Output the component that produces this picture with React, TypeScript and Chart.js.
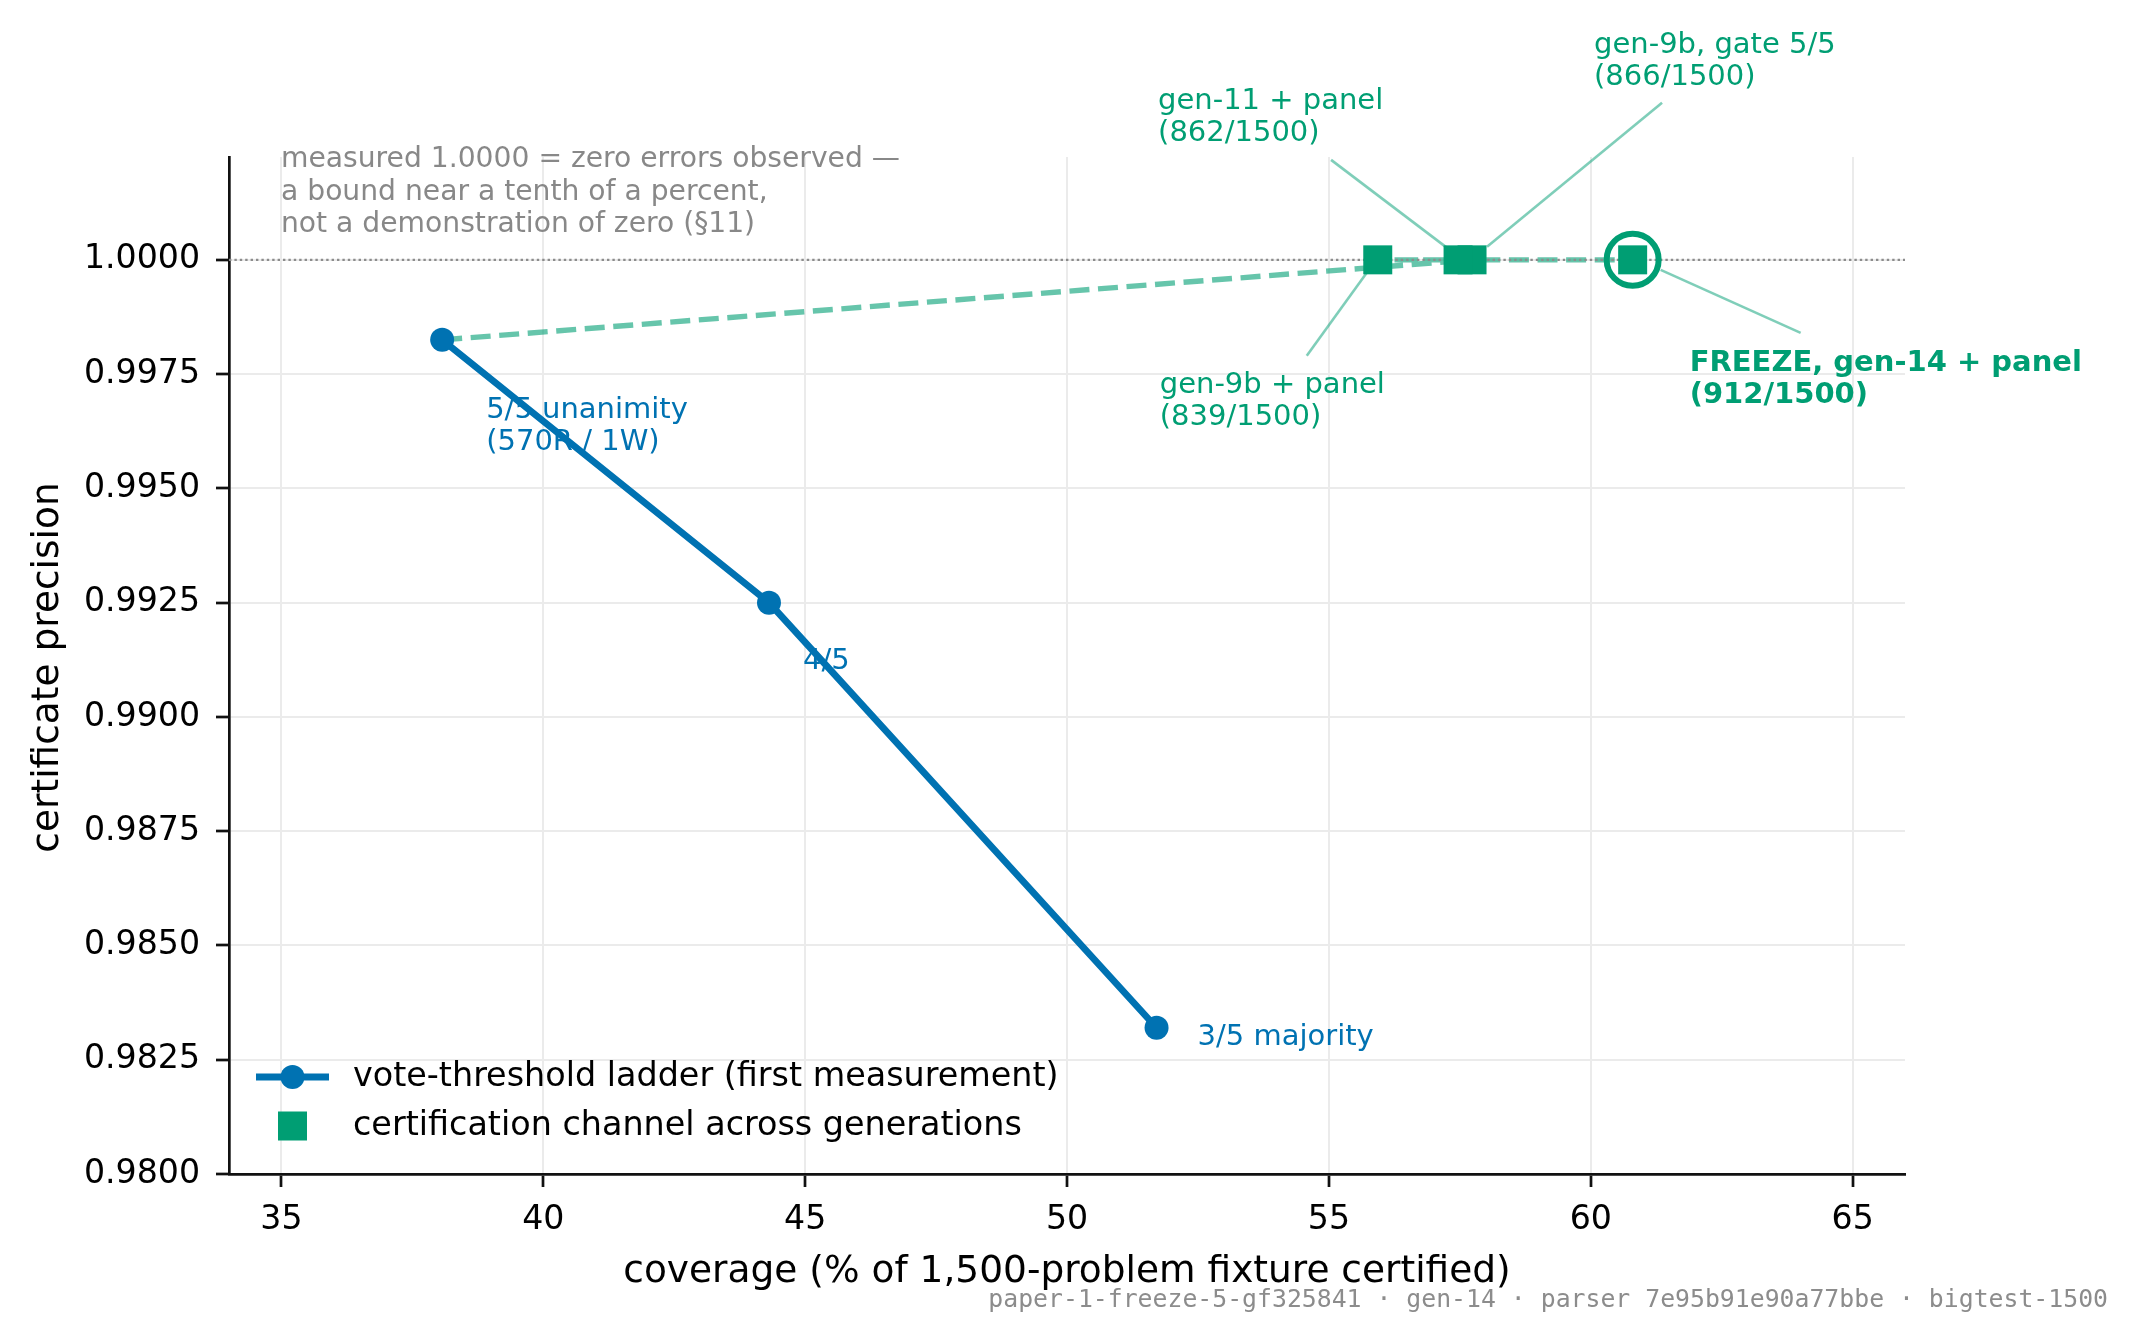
import React, { useEffect, useRef } from "react";
import { Chart, registerables } from "chart.js";

Chart.register(...registerables);

// axes
const X_MIN = 34;
const X_MAX = 66;
const Y_MIN = 0.98;
const Y_MAX = 1.00225;
const xTicks = [35, 40, 45, 50, 55, 60, 65];
const yTicks = [0.98, 0.9825, 0.985, 0.9875, 0.99, 0.9925, 0.995, 0.9975, 1.0];

// vote-threshold ladder (first measurement)
const ladderNames = ["5/5 unanimity\n(570R / 1W)", "4/5", "3/5 majority"];
const ladderCoverage = [38.07, 44.31, 51.71];
const ladderPrecision = [0.99825, 0.9925, 0.9832];

// certification channel, in the order it was run
const FIXTURE_SIZE = 1500;
const channelNames = [
  "gen-9b, gate 5/5\n(866/1500)",
  "gen-9b + panel\n(839/1500)",
  "gen-11 + panel\n(862/1500)",
  "FREEZE, gen-14 + panel\n(912/1500)",
];
const channelCertified = [866, 839, 862, 912];
const channelPrecision = [1, 1, 1, 1];
const FREEZE = 3;

const noteLines = [
  "measured 1.0000 = zero errors observed \u2014",
  "a bound near a tenth of a percent,",
  "not a demonstration of zero (\u00a711)",
];
const footer = "paper-1-freeze-5-gf325841 \u00b7 gen-14 \u00b7 parser 7e95b91e90a77bbe \u00b7 bigtest-1500";

const BLUE = "#0072B2";
const GREEN = "#009E73";
const FONT = "'DejaVu Sans', sans-serif";

// label placement, pixels from the point (text = first baseline, lead = leader line)
const ladderLabelOffset = [[44, 78], [34, 66], [41, 17]];
const channelLabelOffset = [
  { text: [122, -207], lead: [[190, -157], [15, -13]] },
  { text: [-218, 133], lead: [[-71, 96], [-11, 13]] },
  { text: [-300, -151], lead: [[-127, -100], [-11, -12]] },
  { text: [57, 111], lead: [[168, 73], [28, 10]] },
];

const channelCoverage = channelCertified.map((c) => (c / FIXTURE_SIZE) * 100);

const annotations = {
  id: "annotations",
  beforeDatasetsDraw(chart: any) {
    const { ctx, chartArea } = chart;
    const xs = chart.scales.x;
    const ys = chart.scales.y;
    ctx.save();
    ctx.textAlign = "left";
    ctx.textBaseline = "alphabetic";

    ctx.font = `28.2px ${FONT}`;
    ctx.fillStyle = "#888888";
    noteLines.forEach((t, i) => ctx.fillText(t, chartArea.left + 52, chartArea.top + 10 + i * 32.6));

    ctx.font = `29px ${FONT}`;
    ctx.fillStyle = BLUE;
    ladderNames.forEach((name, i) => {
      const px = xs.getPixelForValue(ladderCoverage[i]);
      const py = ys.getPixelForValue(ladderPrecision[i]);
      const [dx, dy] = ladderLabelOffset[i];
      name.split("\n").forEach((t, j) => ctx.fillText(t, px + dx, py + dy + j * 32.6));
    });

    channelNames.forEach((name, i) => {
      const px = xs.getPixelForValue(channelCoverage[i]);
      const py = ys.getPixelForValue(channelPrecision[i]);
      const o = channelLabelOffset[i];
      ctx.strokeStyle = "rgba(0,158,115,0.5)";
      ctx.lineWidth = 2.6;
      ctx.beginPath();
      ctx.moveTo(px + o.lead[0][0], py + o.lead[0][1]);
      ctx.lineTo(px + o.lead[1][0], py + o.lead[1][1]);
      ctx.stroke();
      ctx.fillStyle = GREEN;
      ctx.font = i === FREEZE ? `bold 29px ${FONT}` : `29px ${FONT}`;
      name.split("\n").forEach((t, j) => ctx.fillText(t, px + o.text[0], py + o.text[1] + j * 32.4));
    });
    ctx.restore();
  },
  afterDraw(chart: any) {
    const { ctx, chartArea } = chart;
    ctx.save();
    ctx.fillStyle = "#000";

    // axis titles
    ctx.font = `37.5px ${FONT}`;
    ctx.textAlign = "center";
    ctx.textBaseline = "alphabetic";
    ctx.fillText("coverage (% of 1,500-problem fixture certified)", (chartArea.left + chartArea.right) / 2, 1282);
    ctx.save();
    ctx.translate(58, (chartArea.top + chartArea.bottom) / 2 + 2);
    ctx.rotate(-Math.PI / 2);
    ctx.fillText("certificate precision", 0, 0);
    ctx.restore();

    // legend
    const lx = chartArea.left;
    const ly1 = chartArea.bottom - 97;
    const ly2 = chartArea.bottom - 48;
    ctx.strokeStyle = BLUE;
    ctx.lineWidth = 6.8;
    ctx.beginPath();
    ctx.moveTo(lx + 27, ly1);
    ctx.lineTo(lx + 100, ly1);
    ctx.stroke();
    ctx.fillStyle = BLUE;
    ctx.beginPath();
    ctx.arc(lx + 63.5, ly1, 12, 0, Math.PI * 2);
    ctx.fill();
    ctx.fillStyle = GREEN;
    ctx.fillRect(lx + 63.5 - 14.5, ly2 - 14.5, 29, 29);
    ctx.fillStyle = "#000";
    ctx.font = `33.4px ${FONT}`;
    ctx.textAlign = "left";
    ctx.textBaseline = "middle";
    ctx.fillText("vote-threshold ladder (first measurement)", lx + 124, ly1);
    ctx.fillText("certification channel across generations", lx + 124, ly2);

    // provenance footer
    ctx.font = `24.8px 'DejaVu Sans Mono', monospace`;
    ctx.fillStyle = "#8c8c8c";
    ctx.textAlign = "right";
    ctx.textBaseline = "alphabetic";
    ctx.fillText(footer, 2108, 1307);
    ctx.restore();
  },
};

const App = () => {
  const canvasRef = useRef<HTMLCanvasElement>(null);
  const chartRef = useRef<Chart | null>(null);

  useEffect(() => {
    if (chartRef.current) chartRef.current.destroy();
    const ctx = canvasRef.current!.getContext("2d")!;

    const ladder = ladderCoverage.map((x, i) => ({ x, y: ladderPrecision[i] }));
    const channel = channelCoverage.map((x, i) => ({ x, y: channelPrecision[i] }));
    const path = [ladder[0], ...channel];

    const tickFont = { family: FONT, size: 33.2 };

    chartRef.current = new Chart(ctx, {
      type: "scatter",
      data: {
        datasets: [
          {
            label: "channel path",
            data: path,
            showLine: true,
            borderColor: "rgba(0,158,115,0.6)",
            borderWidth: 5.4,
            borderDash: [20, 8.6],
            pointRadius: 0,
            order: 6,
          },
          {
            label: "measured 1.0000",
            data: [{ x: X_MIN, y: 1 }, { x: X_MAX, y: 1 }],
            showLine: true,
            borderColor: "#8c8c8c",
            borderWidth: 2.4,
            borderDash: [2.4, 3],
            pointRadius: 0,
            order: 5,
          },
          {
            label: "vote-threshold ladder (first measurement)",
            data: ladder,
            showLine: true,
            borderColor: BLUE,
            borderWidth: 6.8,
            borderJoinStyle: "round",
            pointRadius: 12,
            pointBackgroundColor: BLUE,
            pointBorderWidth: 0,
            order: 4,
          },
          {
            label: "freeze",
            data: [channel[FREEZE]],
            pointStyle: "circle",
            pointRadius: 26,
            pointBorderWidth: 6,
            pointBorderColor: GREEN,
            pointBackgroundColor: "rgba(0,0,0,0)",
            order: 3,
          },
          {
            label: "certification channel across generations",
            data: channel,
            pointStyle: "rect",
            pointRadius: 20.5,
            pointBackgroundColor: GREEN,
            pointBorderWidth: 0,
            order: 2,
          },
        ],
      },
      options: {
        responsive: false,
        animation: false,
        events: [],
        layout: { padding: { left: 0, top: 157, right: 233, bottom: 0 } },
        plugins: { legend: { display: false }, tooltip: { enabled: false } },
        scales: {
          x: {
            type: "linear",
            min: X_MIN,
            max: X_MAX,
            afterBuildTicks: (s: any) => {
              s.ticks = xTicks.map((value) => ({ value }));
            },
            afterFit: (s: any) => {
              s.height = 169;
            },
            ticks: {
              font: tickFont,
              color: "#000",
              padding: 13,
              autoSkip: false,
              maxRotation: 0,
              callback: (v: any) => String(v),
            },
            grid: { color: "#ebebeb", lineWidth: 2, tickColor: "#111", tickWidth: 2.7, tickLength: 13 },
            border: { color: "#111", width: 2.7 },
          },
          y: {
            type: "linear",
            min: Y_MIN,
            max: Y_MAX,
            afterBuildTicks: (s: any) => {
              s.ticks = yTicks.map((value) => ({ value }));
            },
            afterFit: (s: any) => {
              s.width = 229;
            },
            ticks: {
              font: tickFont,
              color: "#000",
              padding: 16,
              autoSkip: false,
              callback: (v: any) => Number(v).toFixed(4),
            },
            grid: { color: "#ebebeb", lineWidth: 2, tickColor: "#111", tickWidth: 2.7, tickLength: 13 },
            border: { color: "#111", width: 2.7 },
          },
        },
      },
      plugins: [annotations],
    });

    return () => {
      if (chartRef.current) {
        chartRef.current.destroy();
        chartRef.current = null;
      }
    };
  }, []);

  return (
    <div style={{ position: "fixed", left: 0, top: 0, width: 2138, height: 1343, background: "#fff" }}>
      <canvas ref={canvasRef} width={2138} height={1343} style={{ width: 2138, height: 1343, display: "block" }} />
    </div>
  );
};

export default App;
